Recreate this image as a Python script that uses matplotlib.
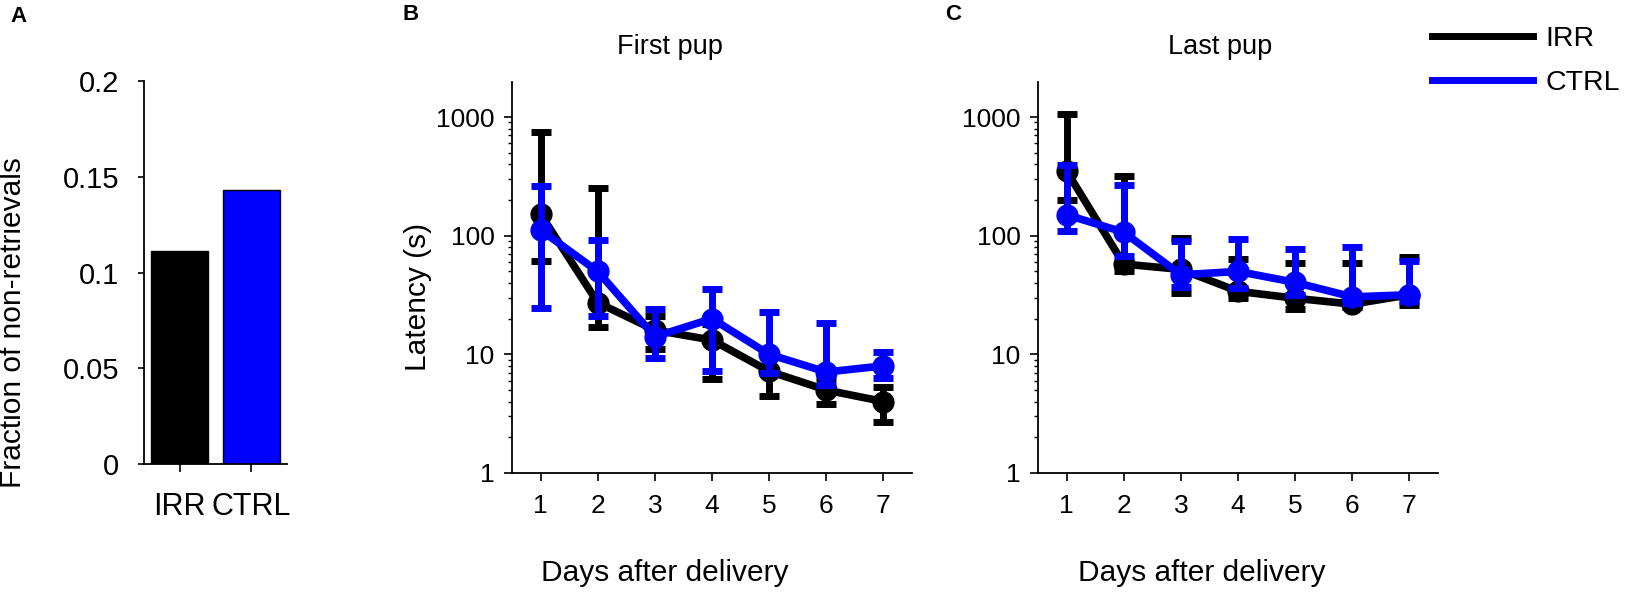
import numpy as np
import matplotlib
matplotlib.use("Agg")
import matplotlib.pyplot as plt
from matplotlib.lines import Line2D
from matplotlib.ticker import LogLocator, NullFormatter, FixedLocator, FixedFormatter

plt.rcParams['font.family'] = ['Liberation Sans', 'DejaVu Sans']

# panel A
groups = ["IRR", "CTRL"]
frac_nonret = [0.1114, 0.1431]

# panel B / C
days = [1, 2, 3, 4, 5, 6, 7]

first_irr_mean = [152, 27.3, 16, 13.2, 7.2, 5.0, 4.0]
first_irr_lo = [61, 16.9, 11.2, 6.2, 4.5, 3.8, 2.7]
first_irr_hi = [747, 250, 21, 18, 10, 6.3, 5.3]

first_ctrl_mean = [112, 50, 14.1, 20, 10, 7.1, 8.0]
first_ctrl_lo = [24.5, 21, 9.4, 7.3, 7.0, 5.5, 6.3]
first_ctrl_hi = [261, 92, 24, 35.6, 22.6, 18.3, 10.4]

last_irr_mean = [350, 57.7, 52, 34, 29.7, 26.5, 31.8]
last_irr_lo = [199, 50, 32.7, 30, 24, 25, 26.2]
last_irr_hi = [1055, 317, 96, 63.5, 58.8, 59, 66.6]

last_ctrl_mean = [150, 107, 46.8, 50, 40.4, 30.5, 31.8]
last_ctrl_lo = [109, 67, 37.3, 36, 31.7, 27, 28]
last_ctrl_hi = [398, 270, 89.6, 93.7, 77, 81, 61.5]

IRR_COL = "black"
CTRL_COL = "#0000ff"

W, H = 1625, 594
fig = plt.figure(figsize=(W / 100, H / 100), dpi=100)


def px_axes(x0, y0, x1, y1):
    return fig.add_axes([x0 / W, 1 - y1 / H, (x1 - x0) / W, (y1 - y0) / H])


# ---- A ----
axA = px_axes(144, 81, 287, 464)
axA.bar([1, 2], frac_nonret, width=0.8, color=[IRR_COL, CTRL_COL],
        edgecolor="black", linewidth=1)
axA.set_xlim(0.5, 2.5)
axA.set_ylim(0, 0.2)
axA.set_yticks([0, 0.05, 0.1, 0.15, 0.2])
axA.set_yticklabels(["0", "0.05", "0.1", "0.15", "0.2"])
axA.set_xticks([1, 2])
axA.set_xticklabels(groups)
axA.tick_params(axis="y", labelsize=21, direction="out", length=4, width=1.2, pad=14)
axA.tick_params(axis="x", labelsize=22, direction="out", length=6, width=1.2, pad=14)
axA.set_ylabel("Fraction of non-retrievals", fontsize=21.5)
axA.yaxis.set_label_coords(-0.818, 0.37)
for s in ["top", "right"]:
    axA.spines[s].set_visible(False)
for s in ["left", "bottom"]:
    axA.spines[s].set_linewidth(1.3)


def latency_panel(ax, m1, lo1, hi1, m2, lo2, hi2, title, title_x, xlab_x):
    for m, lo, hi, col, z in [(m1, lo1, hi1, IRR_COL, 2), (m2, lo2, hi2, CTRL_COL, 3)]:
        m = np.array(m)
        yerr = [m - np.array(lo), np.array(hi) - m]
        ax.errorbar(days, m, yerr=yerr, color=col, lw=5.5, marker="o", ms=15,
                    elinewidth=5, capsize=7.5, capthick=5, zorder=z)
    ax.set_yscale("log")
    ax.set_ylim(1, 1975)
    ax.set_xlim(0.5, 7.5)
    ax.set_xticks(days)
    ax.yaxis.set_major_locator(FixedLocator([1, 10, 100, 1000]))
    ax.yaxis.set_major_formatter(FixedFormatter(["1", "10", "100", "1000"]))
    ax.yaxis.set_minor_locator(LogLocator(base=10, subs=np.arange(2, 10)))
    ax.yaxis.set_minor_formatter(NullFormatter())
    ax.tick_params(axis="y", which="major", labelsize=19, length=6, width=1.2, pad=6.5)
    ax.tick_params(axis="y", which="minor", length=3, width=1)
    ax.tick_params(axis="x", labelsize=19, length=6, width=1.2, pad=9)
    for s in ["top", "right"]:
        ax.spines[s].set_visible(False)
    for s in ["left", "bottom"]:
        ax.spines[s].set_linewidth(1.3)
    ax.text(title_x, 1.09, title, transform=ax.transAxes, ha="center",
            va="center", fontsize=19.5)
    ax.text(xlab_x, -0.256, "Days after delivery", transform=ax.transAxes,
            ha="center", va="center", fontsize=21.5)


axB = px_axes(512, 82, 912, 473)
latency_panel(axB, first_irr_mean, first_irr_lo, first_irr_hi,
              first_ctrl_mean, first_ctrl_lo, first_ctrl_hi,
              "First pup", 0.395, 0.382)
axB.set_ylabel("Latency (s)", fontsize=21.5)
axB.yaxis.set_label_coords(-0.20, 0.45)

axC = px_axes(1038, 82, 1438, 473)
latency_panel(axC, last_irr_mean, last_irr_lo, last_irr_hi,
              last_ctrl_mean, last_ctrl_lo, last_ctrl_hi,
              "Last pup", 0.455, 0.41)

# panel letters
fig.text(10 / W, 1 - 16 / H, "A", fontsize=16, fontweight="bold", va="center")
fig.text(403 / W, 1 - 15 / H, "B", fontsize=16, fontweight="bold", va="center")
fig.text(945 / W, 1 - 15 / H, "C", fontsize=16, fontweight="bold", va="center")

handles = [Line2D([], [], color=IRR_COL, lw=5), Line2D([], [], color=CTRL_COL, lw=5)]
fig.legend(handles, ["IRR", "CTRL"], loc="upper left",
           bbox_to_anchor=(1432 / W, 1 - 26 / H), frameon=False, fontsize=20.5,
           handlelength=3.55, handletextpad=0.42, labelspacing=0.62,
           borderpad=0, borderaxespad=0)

fig.savefig("out.png", dpi=100)
